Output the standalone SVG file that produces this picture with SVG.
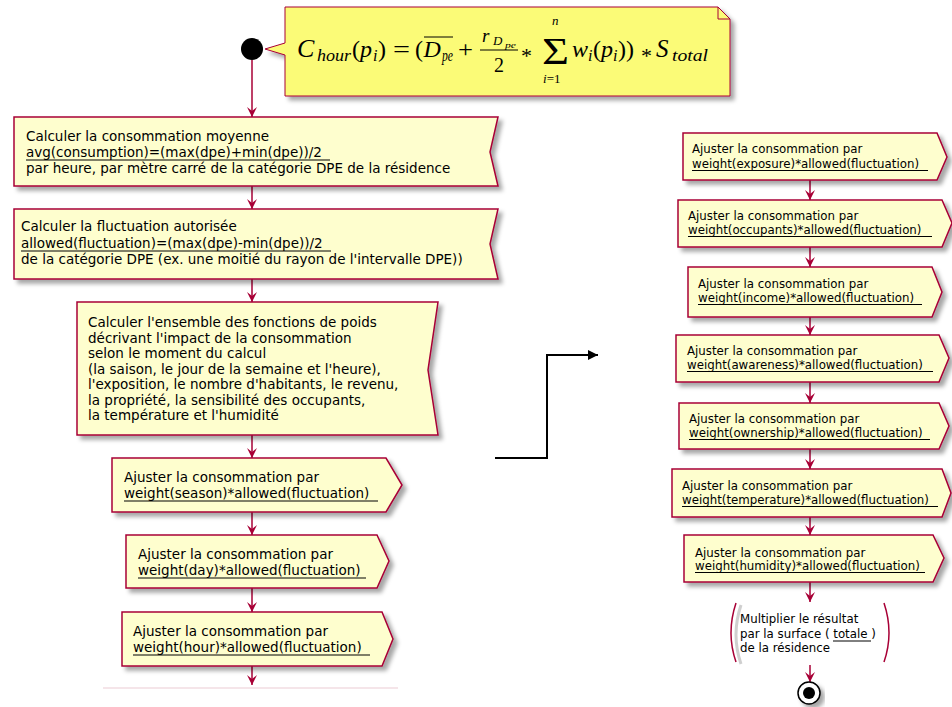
<svg xmlns="http://www.w3.org/2000/svg" width="952" height="707" viewBox="0 0 952 707">
<defs>
<filter id="sh" x="-10%" y="-10%" width="130%" height="140%">
<feDropShadow dx="4" dy="4" stdDeviation="2" flood-color="#000" flood-opacity="0.35"/>
</filter>
<marker id="ah" viewBox="0 0 10 10" refX="10" refY="5" markerWidth="10" markerHeight="10" markerUnits="userSpaceOnUse" orient="auto">
<path d="M0,0 L10,5 L0,10 L4,5 Z" fill="#A80036"/>
</marker>
<marker id="bk" viewBox="0 0 10 10" refX="10" refY="5" markerWidth="11" markerHeight="10" markerUnits="userSpaceOnUse" orient="auto">
<path d="M0,0 L10,5 L0,10 Z" fill="#000"/>
</marker>
</defs>
<style>
.box{fill:#FEFECE;stroke:#A80036;stroke-width:1.5;filter:url(#sh)}
.note{fill:#FBFB77;stroke:#A80036;stroke-width:1;filter:url(#sh)}
.t{font-family:"DejaVu Sans",sans-serif;font-size:13.5px;fill:#000}
.r{font-family:"DejaVu Sans",sans-serif;font-size:11.8px;fill:#000}
.u{stroke:#000;stroke-width:1}
.c{stroke:#A80036;stroke-width:1.5;fill:none;marker-end:url(#ah)}
.m{font-family:"Liberation Serif",serif;fill:#000;font-size:24px}
.i{font-style:italic}
.s{font-size:16px;font-style:italic}
.br{fill:none;stroke:#A80036;stroke-width:1.5}
</style>
<rect width="952" height="707" fill="#fff"/>

<g id="connectors">
<line class="c" x1="252" y1="60" x2="252" y2="117"/>
<line class="c" x1="252" y1="186" x2="252" y2="209"/>
<line class="c" x1="252" y1="279" x2="252" y2="302"/>
<line class="c" x1="252" y1="435" x2="252" y2="458"/>
<line class="c" x1="252" y1="512" x2="252" y2="535"/>
<line class="c" x1="252" y1="588" x2="252" y2="612"/>
<line class="c" x1="252" y1="666" x2="252" y2="685"/>
<line x1="103" y1="688" x2="398" y2="688" stroke="#EBCBD3" stroke-width="1"/>
<polyline points="495,458 547,458 547,355 598,355" fill="none" stroke="#000" stroke-width="2" marker-end="url(#bk)"/>
<line class="c" x1="810" y1="180" x2="810" y2="200"/>
<line class="c" x1="810" y1="247" x2="810" y2="267"/>
<line class="c" x1="810" y1="317" x2="810" y2="335"/>
<line class="c" x1="810" y1="382" x2="810" y2="403"/>
<line class="c" x1="810" y1="449" x2="810" y2="469"/>
<line class="c" x1="810" y1="517" x2="810" y2="535"/>
<line class="c" x1="810" y1="582" x2="810" y2="602"/>
<line class="c" x1="810" y1="665" x2="810" y2="682"/>
</g>

<g id="start"><circle cx="252" cy="49" r="11" fill="#000"/></g>

<g id="note">
<path class="note" d="M285,7 L718,7 L730,19 L730,96 L285,96 L285,55 L265,49 L285,43 Z"/>
<path d="M718,7 L718,19 L730,19" fill="none" stroke="#A80036" stroke-width="1"/>
<line x1="424" y1="37" x2="453" y2="37" stroke="#000" stroke-width="1"/>
<line x1="480" y1="50" x2="518" y2="50" stroke="#000" stroke-width="1"/>
<text class="m"><tspan class="i" x="297" y="57" font-size="26">C</tspan><tspan class="s" x="317" y="61" textLength="34" lengthAdjust="spacingAndGlyphs">hour</tspan><tspan x="352" y="57">(</tspan><tspan class="i" x="360" y="57">p</tspan><tspan class="s" x="373" y="61">i</tspan><tspan x="378" y="57">)</tspan><tspan x="393" y="57" textLength="17" lengthAdjust="spacingAndGlyphs">=</tspan><tspan x="415" y="57">(</tspan><tspan class="i" x="423.5" y="57">D</tspan><tspan class="s" x="442" y="61" textLength="11" lengthAdjust="spacingAndGlyphs">pe</tspan><tspan x="458" y="57" textLength="15" lengthAdjust="spacingAndGlyphs">+</tspan><tspan class="i" x="482" y="42" font-size="19">r</tspan><tspan class="i" x="493" y="45" font-size="13">D</tspan><tspan class="i" x="505" y="48" font-size="9" textLength="11" lengthAdjust="spacingAndGlyphs">pe</tspan><tspan x="494" y="72" font-size="20">2</tspan><tspan x="521" y="63" font-size="22">*</tspan><tspan x="542" y="64" font-size="38" textLength="27" lengthAdjust="spacingAndGlyphs">Σ</tspan><tspan class="i" x="552" y="25" font-size="13">n</tspan><tspan class="i" x="543" y="83" font-size="13">i</tspan><tspan font-size="13">=1</tspan><tspan class="i" x="572" y="57">w</tspan><tspan class="s" x="588" y="61">i</tspan><tspan x="593" y="57">(</tspan><tspan class="i" x="601" y="57">p</tspan><tspan class="s" x="613" y="61">i</tspan><tspan x="618" y="57">))</tspan><tspan x="641" y="63" font-size="22">*</tspan><tspan class="i" x="656" y="57" font-size="25">S</tspan><tspan class="s" x="672" y="61" textLength="36" lengthAdjust="spacingAndGlyphs">total</tspan></text>
</g>

<g id="n1">
<path class="box" d="M14,117 L498,117 L490,152 L498,186 L14,186 Z"/>
<text class="t" x="26" y="141">Calculer la consommation moyenne</text>
<text class="t" x="26" y="157">avg(consumption)=(max(dpe)+min(dpe))/2</text>
<line class="u" x1="26" y1="160" x2="330" y2="160"/>
<text class="t" x="26" y="173">par heure, par mètre carré de la catégorie DPE de la résidence</text>
</g>

<g id="n2">
<path class="box" d="M14,209 L498,209 L490,244 L498,279 L14,279 Z"/>
<text class="t" x="21" y="231">Calculer la fluctuation autorisée</text>
<text class="t" x="21" y="248">allowed(fluctuation)=(max(dpe)-min(dpe))/2</text>
<line class="u" x1="21" y1="251" x2="331" y2="251"/>
<text class="t" x="21" y="264">de la catégorie DPE (ex. une moitié du rayon de l'intervalle DPE))</text>
</g>

<g id="n3">
<path class="box" d="M77,302 L438,302 L428,370 L438,435 L77,435 Z"/>
<text class="t" x="88" y="327">Calculer l'ensemble des fonctions de poids</text>
<text class="t" x="88" y="342.5">décrivant l'impact de la consommation</text>
<text class="t" x="88" y="358">selon le moment du calcul</text>
<text class="t" x="88" y="373.5">(la saison, le jour de la semaine et l'heure),</text>
<text class="t" x="88" y="389">l'exposition, le nombre d'habitants, le revenu,</text>
<text class="t" x="88" y="404.5">la propriété, la sensibilité des occupants,</text>
<text class="t" x="88" y="420">la température et l'humidité</text>
</g>

<g id="n4">
<path class="box" d="M112,458 L386,458 L402,485 L386,512 L112,512 Z"/>
<text class="t" x="124" y="482">Ajuster la consommation par</text>
<text class="t" x="124" y="498">weight(season)*allowed(fluctuation)</text>
<line class="u" x1="124" y1="501" x2="378" y2="501"/>
</g>

<g id="n5">
<path class="box" d="M126,535 L377,535 L389,561 L377,588 L126,588 Z"/>
<text class="t" x="138" y="559">Ajuster la consommation par</text>
<text class="t" x="138" y="575">weight(day)*allowed(fluctuation)</text>
<line class="u" x1="138" y1="578" x2="366" y2="578"/>
</g>

<g id="n6">
<path class="box" d="M122,612 L382,612 L393,639 L382,666 L122,666 Z"/>
<text class="t" x="133" y="636">Ajuster la consommation par</text>
<text class="t" x="133" y="652">weight(hour)*allowed(fluctuation)</text>
<line class="u" x1="133" y1="655" x2="370" y2="655"/>
</g>

<g id="r1">
<path class="box" d="M683,133 L937,133 L947,157 L937,180 L683,180 Z"/>
<text class="r" x="692" y="153">Ajuster la consommation par</text>
<text class="r" x="692" y="168">weight(exposure)*allowed(fluctuation)</text>
<line class="u" x1="692" y1="170.5" x2="928" y2="170.5"/>
</g>

<g id="r2">
<path class="box" d="M678,200 L942,200 L952,223 L942,247 L678,247 Z"/>
<text class="r" x="688" y="220">Ajuster la consommation par</text>
<text class="r" x="688" y="234">weight(occupants)*allowed(fluctuation)</text>
<line class="u" x1="688" y1="236.5" x2="932" y2="236.5"/>
</g>

<g id="r3">
<path class="box" d="M688,267 L932,267 L942,292 L932,317 L688,317 Z"/>
<text class="r" x="698" y="288">Ajuster la consommation par</text>
<text class="r" x="698" y="302">weight(income)*allowed(fluctuation)</text>
<line class="u" x1="698" y1="304.5" x2="922" y2="304.5"/>
</g>

<g id="r4">
<path class="box" d="M676,335 L939,335 L949,358 L939,382 L676,382 Z"/>
<text class="r" x="687" y="355">Ajuster la consommation par</text>
<text class="r" x="687" y="369">weight(awareness)*allowed(fluctuation)</text>
<line class="u" x1="687" y1="371.5" x2="933" y2="371.5"/>
</g>

<g id="r5">
<path class="box" d="M679,403 L939,403 L949,426 L939,449 L679,449 Z"/>
<text class="r" x="689" y="423">Ajuster la consommation par</text>
<text class="r" x="689" y="437">weight(ownership)*allowed(fluctuation)</text>
<line class="u" x1="689" y1="439.5" x2="930" y2="439.5"/>
</g>

<g id="r6">
<path class="box" d="M672,469 L942,469 L951,493 L942,517 L672,517 Z"/>
<text class="r" x="682" y="490">Ajuster la consommation par</text>
<text class="r" x="682" y="504">weight(temperature)*allowed(fluctuation)</text>
<line class="u" x1="682" y1="506.5" x2="938" y2="506.5"/>
</g>

<g id="r7">
<path class="box" d="M684,535 L933,535 L944,558 L933,582 L684,582 Z"/>
<text class="r" x="695" y="557">Ajuster la consommation par</text>
<text class="r" x="695" y="570">weight(humidity)*allowed(fluctuation)</text>
<line class="u" x1="695" y1="572.5" x2="925" y2="572.5"/>
</g>

<g id="r8">
<path d="M738,603 Q728,633 738,662" fill="none" stroke="#bbb" stroke-width="3" opacity="0.7" transform="translate(3,2)"/>
<path class="br" d="M736,603 Q726,633 736,662"/>
<path class="br" d="M884,603 Q894,633 884,662"/>
<text class="r" x="740" y="623" font-size="11.5">Multiplier le résultat</text>
<text class="r" x="740" y="638" font-size="11.5">par la surface ( <tspan>totale</tspan> )</text>
<line class="u" x1="833" y1="641" x2="871" y2="641"/>
<text class="r" x="740" y="652" font-size="11.5">de la résidence</text>
</g>

<g id="end">
<circle cx="809" cy="693" r="11" fill="#fff" stroke="#000" stroke-width="1.5" filter="url(#sh)"/>
<circle cx="809" cy="693" r="6" fill="#000"/>
</g>
</svg>
